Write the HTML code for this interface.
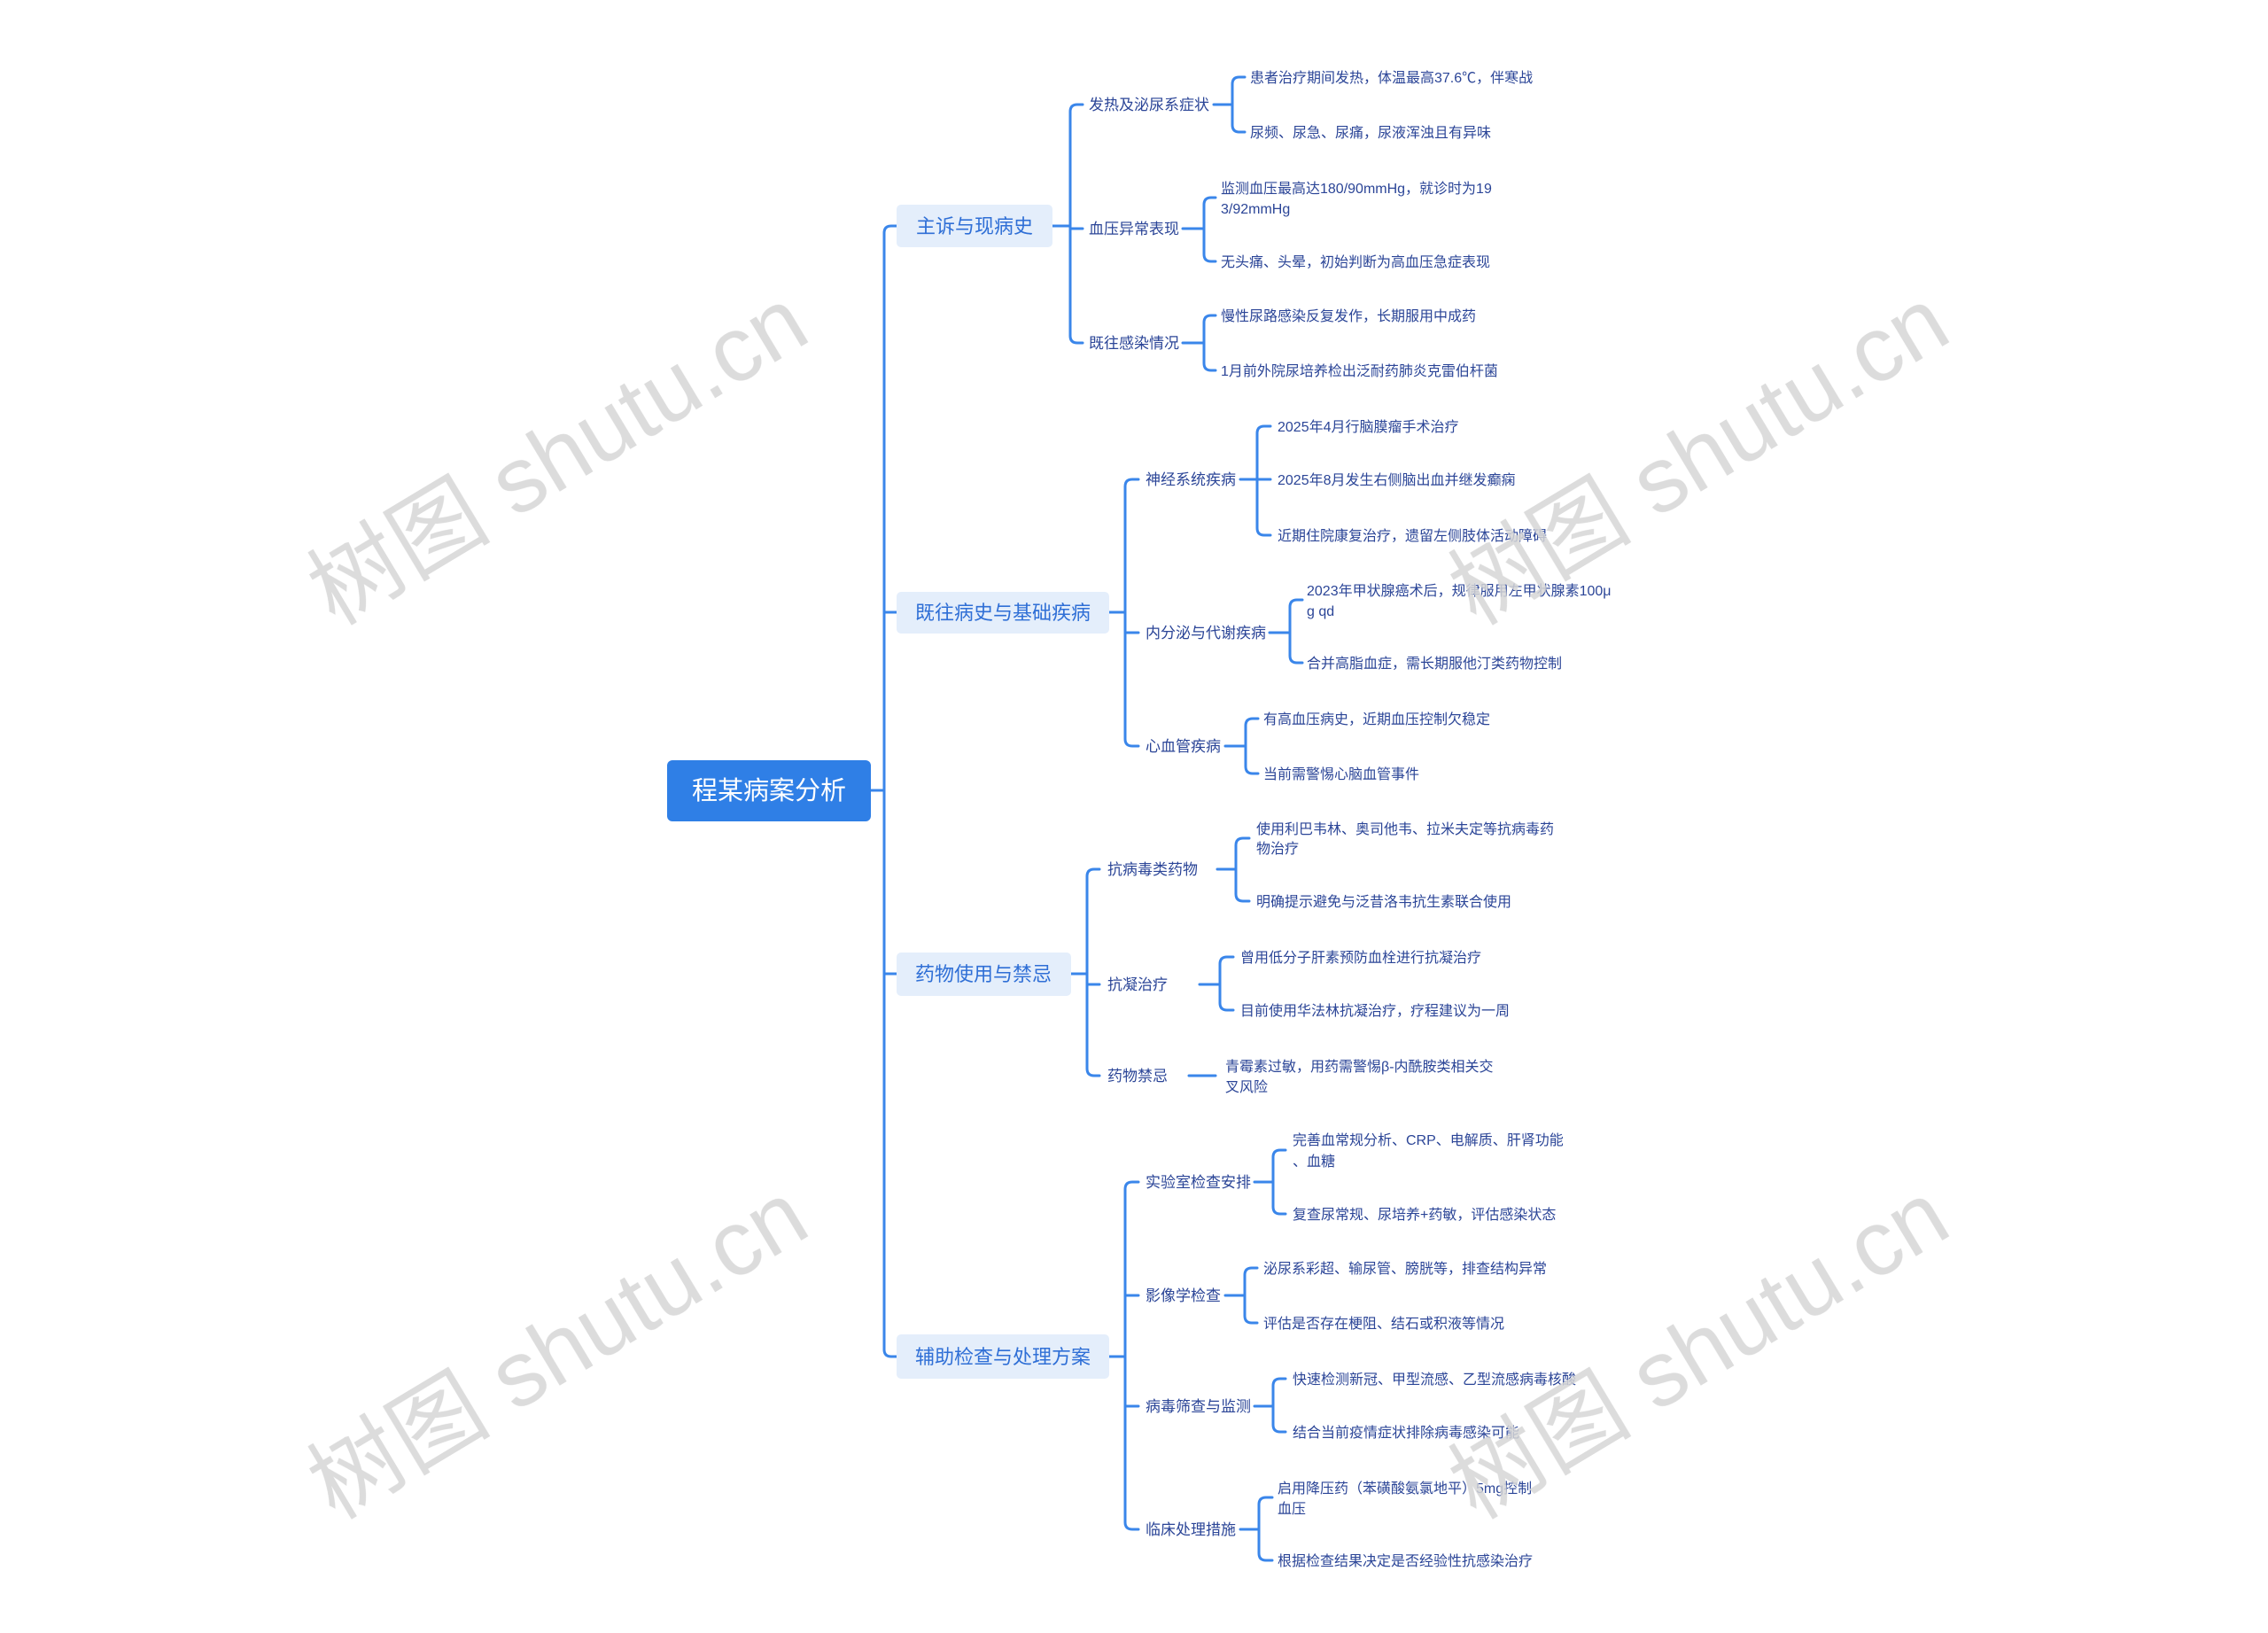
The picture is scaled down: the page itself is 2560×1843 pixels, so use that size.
<!DOCTYPE html>
<html><head><meta charset="utf-8"><style>
html,body{margin:0;padding:0;background:#fff;}
svg{display:block}
.l2{font-family:"Liberation Sans","Noto Sans CJK SC",sans-serif;font-size:17px;fill:#2b4597}
.lf{font-family:"Liberation Sans","Noto Sans CJK SC",sans-serif;font-size:16px;fill:#2b4597}
.l1{font-family:"Liberation Sans","Noto Sans CJK SC",sans-serif;font-size:22px;fill:#2f6fd6}
.wm{font-family:"Liberation Sans","Noto Sans CJK SC",sans-serif;font-size:104px;fill:#d6d6d6}
</style></head><body>
<svg width="2560" height="1843" viewBox="0 0 2560 1843" xmlns="http://www.w3.org/2000/svg">
<g fill="none" stroke="#3a86ea" stroke-width="3" stroke-linecap="round">
<!-- trunk -->
<path d="M983 892H998M1012 255H1006Q998 255 998 263V1523Q998 1531 1006 1531H1012M998 691H1012M998 1099H1012"/>
<!-- branch1 -->
<path d="M1188 255H1208M1222 118H1216Q1208 118 1208 126V379Q1208 387 1216 387H1222M1208 258H1222"/>
<path d="M1370 118H1391M1405 87H1399Q1391 87 1391 95V141Q1391 149 1399 149H1405"/>
<path d="M1335 258H1359M1372 223H1367Q1359 223 1359 231V287Q1359 295 1367 295H1372"/>
<path d="M1335 387H1359M1372 356H1367Q1359 356 1359 364V410Q1359 418 1367 418H1372"/>
<!-- branch2 -->
<path d="M1252 691H1270M1285 541H1278Q1270 541 1270 549V834Q1270 842 1278 842H1285M1270 714H1285"/>
<path d="M1400 541H1419M1434 481H1427Q1419 481 1419 489V596Q1419 604 1427 604H1434M1419 541H1434"/>
<path d="M1433 714H1456M1470 677H1464Q1456 677 1456 685V740Q1456 748 1464 748H1470"/>
<path d="M1383 842H1406M1420 811H1414Q1406 811 1406 819V865Q1406 873 1414 873H1420"/>
<!-- branch3 -->
<path d="M1209 1099H1227M1241 981H1235Q1227 981 1227 989V1206Q1227 1214 1235 1214H1241M1227 1111H1241"/>
<path d="M1374 981H1395M1410 946H1403Q1395 946 1395 954V1009Q1395 1017 1403 1017H1410"/>
<path d="M1354 1111H1377M1392 1080H1385Q1377 1080 1377 1088V1132Q1377 1140 1385 1140H1392"/>
<path d="M1342 1214H1372"/>
<!-- branch4 -->
<path d="M1252 1531H1270M1285 1334H1278Q1270 1334 1270 1342V1718Q1270 1726 1278 1726H1285M1270 1462H1285M1270 1587H1285"/>
<path d="M1416 1334H1437M1451 1298H1445Q1437 1298 1437 1306V1362Q1437 1370 1445 1370H1451"/>
<path d="M1383 1462H1405M1419 1431H1413Q1405 1431 1405 1439V1485Q1405 1493 1413 1493H1419"/>
<path d="M1416 1587H1437M1451 1556H1445Q1437 1556 1437 1564V1608Q1437 1616 1445 1616H1451"/>
<path d="M1400 1726H1421M1436 1690H1429Q1421 1690 1421 1698V1753Q1421 1761 1429 1761H1436"/>
</g>
<!-- root -->
<rect x="753" y="858" width="230" height="69" rx="6" fill="#2f7fe6"/>
<text x="868" y="902" text-anchor="middle" font-family="Liberation Sans,Noto Sans CJK SC,sans-serif" font-size="29" fill="#fff">程某病案分析</text>
<!-- level1 -->
<rect x="1012" y="231" width="176" height="48" rx="5" fill="#e4eefb"/>
<text class="l1" x="1100" y="263" text-anchor="middle">主诉与现病史</text>
<rect x="1012" y="668" width="240" height="47" rx="5" fill="#e4eefb"/>
<text class="l1" x="1132" y="699" text-anchor="middle">既往病史与基础疾病</text>
<rect x="1012" y="1075" width="197" height="49" rx="5" fill="#e4eefb"/>
<text class="l1" x="1110" y="1107" text-anchor="middle">药物使用与禁忌</text>
<rect x="1012" y="1506" width="240" height="50" rx="5" fill="#e4eefb"/>
<text class="l1" x="1132" y="1539" text-anchor="middle">辅助检查与处理方案</text>
<!-- level2 -->
<text class="l2" x="1229" y="124">发热及泌尿系症状</text>
<text class="l2" x="1229" y="264">血压异常表现</text>
<text class="l2" x="1229" y="393">既往感染情况</text>
<text class="l2" x="1293" y="547">神经系统疾病</text>
<text class="l2" x="1293" y="720">内分泌与代谢疾病</text>
<text class="l2" x="1293" y="848">心血管疾病</text>
<text class="l2" x="1250" y="987">抗病毒类药物</text>
<text class="l2" x="1250" y="1117">抗凝治疗</text>
<text class="l2" x="1250" y="1220">药物禁忌</text>
<text class="l2" x="1293" y="1340">实验室检查安排</text>
<text class="l2" x="1293" y="1468">影像学检查</text>
<text class="l2" x="1293" y="1593">病毒筛查与监测</text>
<text class="l2" x="1293" y="1732">临床处理措施</text>
<!-- leaves -->
<text class="lf" x="1411" y="93">患者治疗期间发热，体温最高37.6℃，伴寒战</text>
<text class="lf" x="1411" y="155">尿频、尿急、尿痛，尿液浑浊且有异味</text>
<text class="lf" x="1378" y="218">监测血压最高达180/90mmHg，就诊时为19</text>
<text class="lf" x="1378" y="241">3/92mmHg</text>
<text class="lf" x="1378" y="301">无头痛、头晕，初始判断为高血压急症表现</text>
<text class="lf" x="1378" y="362">慢性尿路感染反复发作，长期服用中成药</text>
<text class="lf" x="1378" y="424">1月前外院尿培养检出泛耐药肺炎克雷伯杆菌</text>
<text class="lf" x="1442" y="487">2025年4月行脑膜瘤手术治疗</text>
<text class="lf" x="1442" y="547">2025年8月发生右侧脑出血并继发癫痫</text>
<text class="lf" x="1442" y="610">近期住院康复治疗，遗留左侧肢体活动障碍</text>
<text class="lf" x="1475" y="672">2023年甲状腺癌术后，规律服用左甲状腺素100μ</text>
<text class="lf" x="1475" y="695">g qd</text>
<text class="lf" x="1475" y="754">合并高脂血症，需长期服他汀类药物控制</text>
<text class="lf" x="1426" y="817">有高血压病史，近期血压控制欠稳定</text>
<text class="lf" x="1426" y="879">当前需警惕心脑血管事件</text>
<text class="lf" x="1418" y="941">使用利巴韦林、奥司他韦、拉米夫定等抗病毒药</text>
<text class="lf" x="1418" y="963">物治疗</text>
<text class="lf" x="1418" y="1023">明确提示避免与泛昔洛韦抗生素联合使用</text>
<text class="lf" x="1400" y="1086">曾用低分子肝素预防血栓进行抗凝治疗</text>
<text class="lf" x="1400" y="1146">目前使用华法林抗凝治疗，疗程建议为一周</text>
<text class="lf" x="1383" y="1209">青霉素过敏，用药需警惕β-内酰胺类相关交</text>
<text class="lf" x="1383" y="1232">叉风险</text>
<text class="lf" x="1459" y="1292">完善血常规分析、CRP、电解质、肝肾功能</text>
<text class="lf" x="1459" y="1316">、血糖</text>
<text class="lf" x="1459" y="1376">复查尿常规、尿培养+药敏，评估感染状态</text>
<text class="lf" x="1426" y="1437">泌尿系彩超、输尿管、膀胱等，排查结构异常</text>
<text class="lf" x="1426" y="1499">评估是否存在梗阻、结石或积液等情况</text>
<text class="lf" x="1459" y="1562">快速检测新冠、甲型流感、乙型流感病毒核酸</text>
<text class="lf" x="1459" y="1622">结合当前疫情症状排除病毒感染可能</text>
<text class="lf" x="1442" y="1685">启用降压药（苯磺酸氨氯地平）5mg控制</text>
<text class="lf" x="1442" y="1708">血压</text>
<text class="lf" x="1442" y="1767">根据检查结果决定是否经验性抗感染治疗</text>
<!-- watermarks -->
<g opacity="0.85">
<text class="wm" text-anchor="middle" transform="translate(648,545) rotate(-31)">树图 shutu.cn</text>
<text class="wm" text-anchor="middle" transform="translate(1936,545) rotate(-31)">树图 shutu.cn</text>
<text class="wm" text-anchor="middle" transform="translate(648,1554) rotate(-31)">树图 shutu.cn</text>
<text class="wm" text-anchor="middle" transform="translate(1936,1554) rotate(-31)">树图 shutu.cn</text>
</g>
</svg>
</body></html>
